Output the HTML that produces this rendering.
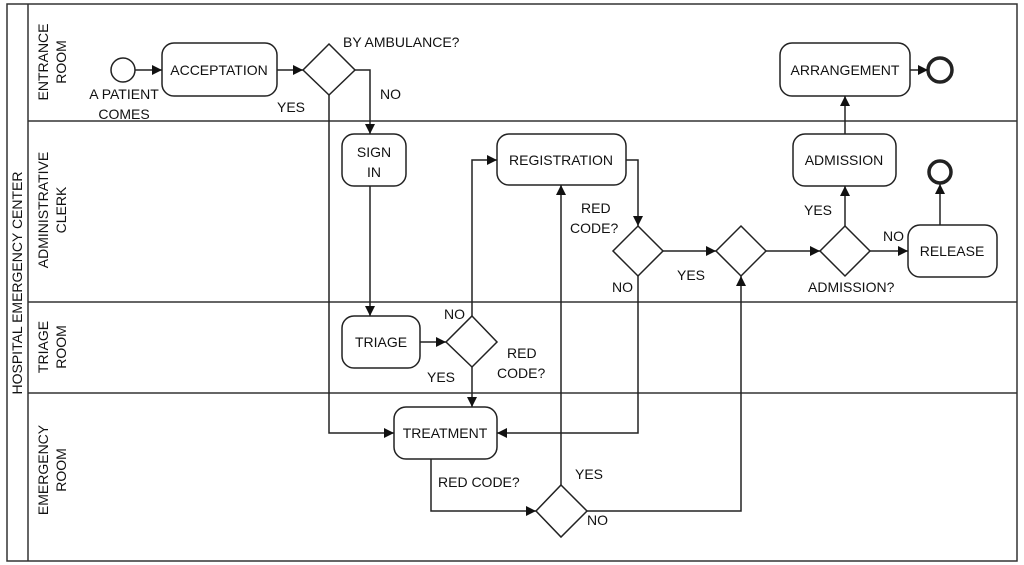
<!DOCTYPE html>
<html><head><style>html,body{margin:0;padding:0;background:#fff;}svg{display:block}</style></head><body>
<svg width="1024" height="565" viewBox="0 0 1024 565" xmlns="http://www.w3.org/2000/svg" font-family="Liberation Sans, sans-serif" font-size="14" fill="#111">
<defs><marker id="a" viewBox="0 0 10 10" refX="10" refY="5" markerWidth="10" markerHeight="10" markerUnits="userSpaceOnUse" orient="auto"><path d="M0,0 L10,5 L0,10 z" fill="#111"/></marker></defs>
<g stroke="#333" stroke-width="1.5" fill="none">
<rect x="7" y="4" width="1010" height="557"/>
<line x1="28" y1="4" x2="28" y2="561"/>
<line x1="28" y1="121" x2="1017" y2="121"/>
<line x1="28" y1="302" x2="1017" y2="302"/>
<line x1="28" y1="393" x2="1017" y2="393"/>
</g>
<g font-size="14" text-anchor="middle">
<text transform="translate(22,283) rotate(-90)">HOSPITAL EMERGENCY CENTER</text>
<text transform="translate(48,62) rotate(-90)">ENTRANCE</text>
<text transform="translate(66,62) rotate(-90)">ROOM</text>
<text transform="translate(48,210) rotate(-90)">ADMINISTRATIVE</text>
<text transform="translate(66,210) rotate(-90)">CLERK</text>
<text transform="translate(48,347) rotate(-90)">TRIAGE</text>
<text transform="translate(66,347) rotate(-90)">ROOM</text>
<text transform="translate(48,470) rotate(-90)">EMERGENCY</text>
<text transform="translate(66,470) rotate(-90)">ROOM</text>
</g>
<g stroke="#222" stroke-width="1.5" fill="#fff">
<circle cx="123" cy="70" r="12"/>
<circle cx="940" cy="70" r="12" stroke-width="3.5"/>
<circle cx="940" cy="172" r="11" stroke-width="3.5"/>
<rect x="162" y="43" width="115" height="53" rx="12"/>
<rect x="342" y="134" width="64" height="52" rx="12"/>
<rect x="497" y="134" width="129" height="51" rx="12"/>
<rect x="342" y="316" width="78" height="52" rx="12"/>
<rect x="394" y="407" width="103" height="52" rx="12"/>
<rect x="908" y="225" width="89" height="52" rx="12"/>
<rect x="793" y="134" width="103" height="52" rx="12"/>
<rect x="780" y="43" width="130" height="53" rx="12"/>
<path d="M329,44 L355,70 L329,95 L303,70 Z"/>
<path d="M472,316 L497,342 L472,367 L446,342 Z"/>
<path d="M561,485 L587,511 L561,537 L536,511 Z"/>
<path d="M638,226 L663,251 L638,276 L613,251 Z"/>
<path d="M741,226 L766,251 L741,276 L716,251 Z"/>
<path d="M845,226 L870,251 L845,276 L820,251 Z"/>
</g>
<g stroke="#222" stroke-width="1.5" fill="none" marker-end="url(#a)">
<path d="M135,70 L162,70"/>
<path d="M277,70 L303,70"/>
<path d="M355,70 L370,70 L370,134"/>
<path d="M329,95 L329,433 L394,433"/>
<path d="M370,186 L370,316"/>
<path d="M420,342 L446,342"/>
<path d="M472,316 L472,160 L497,160"/>
<path d="M472,367 L472,407"/>
<path d="M626,160 L638,160 L638,226"/>
<path d="M638,276 L638,433 L497,433"/>
<path d="M663,251 L716,251"/>
<path d="M561,485 L561,185"/>
<path d="M431,459 L431,511 L536,511"/>
<path d="M587,511 L741,511 L741,276"/>
<path d="M766,251 L820,251"/>
<path d="M845,226 L845,186"/>
<path d="M870,251 L908,251"/>
<path d="M940,225 L940,184"/>
<path d="M845,134 L845,96"/>
<path d="M910,70 L928,70"/>
</g>
<g text-anchor="middle">
<text x="219" y="75">ACCEPTATION</text>
<text x="374" y="157">SIGN</text>
<text x="374" y="177">IN</text>
<text x="561" y="165">REGISTRATION</text>
<text x="381" y="347">TRIAGE</text>
<text x="445" y="438">TREATMENT</text>
<text x="952" y="256">RELEASE</text>
<text x="844" y="165">ADMISSION</text>
<text x="845" y="75">ARRANGEMENT</text>
<text x="124" y="99">A PATIENT</text>
<text x="124" y="119">COMES</text>
</g>
<g>
<text x="343" y="47">BY AMBULANCE?</text>
<text x="380" y="99">NO</text>
<text x="277" y="112">YES</text>
<text x="444" y="319">NO</text>
<text x="507" y="358">RED</text>
<text x="497" y="378">CODE?</text>
<text x="427" y="382">YES</text>
<text x="581" y="213">RED</text>
<text x="570" y="233">CODE?</text>
<text x="612" y="292">NO</text>
<text x="677" y="280">YES</text>
<text x="575" y="479">YES</text>
<text x="438" y="487">RED CODE?</text>
<text x="587" y="525">NO</text>
<text x="804" y="215">YES</text>
<text x="883" y="241">NO</text>
<text x="808" y="292">ADMISSION?</text>
</g>
</svg>
</body></html>
